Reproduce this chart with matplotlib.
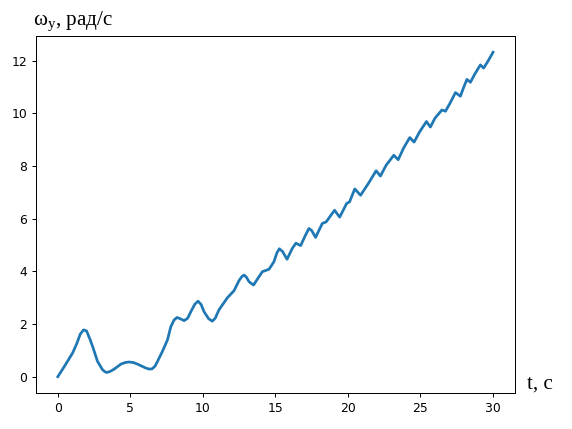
import matplotlib
matplotlib.use("Agg")
import matplotlib.pyplot as plt

# values
t = [0.0, 0.45, 1.02, 1.3, 1.55, 1.78, 1.98, 2.2, 2.4, 2.74, 3.08, 3.22,
     3.38, 3.6, 3.89, 4.35, 4.65, 4.9, 5.2, 5.49, 6.07, 6.3, 6.5, 6.7,
     6.87, 7.2, 7.56, 7.79, 8.02, 8.22, 8.45, 8.71, 8.95, 9.17, 9.45, 9.67,
     9.88, 10.08, 10.4, 10.65, 10.85, 11.11, 11.69, 12.15, 12.49, 12.7,
     12.84, 13.0, 13.18, 13.49, 13.87, 14.1, 14.56, 14.9, 15.1, 15.27,
     15.5, 15.8, 16.16, 16.41, 16.74, 17.05, 17.31, 17.5, 17.77, 18.23,
     18.5, 18.85, 19.08, 19.43, 19.91, 20.11, 20.47, 20.87, 21.42, 21.94,
     22.24, 22.63, 23.16, 23.46, 23.85, 24.26, 24.56, 24.93, 25.41, 25.68,
     26.0, 26.48, 26.72, 27.05, 27.41, 27.75, 27.95, 28.2, 28.44, 28.75,
     29.13, 29.35, 29.65, 30.0]
omega = [0.0, 0.39, 0.9, 1.25, 1.62, 1.78, 1.74, 1.45, 1.15, 0.58, 0.27, 0.2,
         0.16, 0.2, 0.29, 0.48, 0.54, 0.56, 0.54, 0.48, 0.33, 0.29, 0.3, 0.4,
         0.58, 0.95, 1.4, 1.9, 2.16, 2.25, 2.2, 2.13, 2.22, 2.47, 2.76, 2.87,
         2.74, 2.47, 2.2, 2.11, 2.22, 2.54, 3.0, 3.27, 3.65, 3.81,
         3.86, 3.78, 3.61, 3.48, 3.8, 3.99, 4.08, 4.37, 4.7, 4.86,
         4.75, 4.46, 4.87, 5.07, 4.98, 5.35, 5.63, 5.55, 5.29, 5.82,
         5.88, 6.15, 6.32, 6.06, 6.58, 6.64, 7.13, 6.89, 7.35, 7.82,
         7.62, 8.03, 8.41, 8.24, 8.7, 9.08, 8.91, 9.29, 9.69, 9.48,
         9.82, 10.13, 10.08, 10.4, 10.79, 10.65, 10.95, 11.29, 11.18, 11.5,
         11.84, 11.72, 11.98, 12.32]

plt.rcParams['mathtext.fontset'] = 'custom'
plt.rcParams['mathtext.rm'] = 'Liberation Serif'

fig = plt.figure(figsize=(6.4, 4.8), dpi=89.375)
ax = fig.add_axes([0.063, 0.084, 0.837, 0.832])
ax.plot(t, omega, color='#1f77b4', linewidth=2.2, solid_joinstyle='round')

fig.text(0.058, 0.948, r'ω$_\mathrm{y}$, рад/с', family='Liberation Serif',
         fontsize=17, ha='left', va='center')
fig.text(0.921, 0.105, 't, c', family='Liberation Serif',
         fontsize=17, ha='left', va='center')

fig.savefig('out.png', dpi=89.375)
